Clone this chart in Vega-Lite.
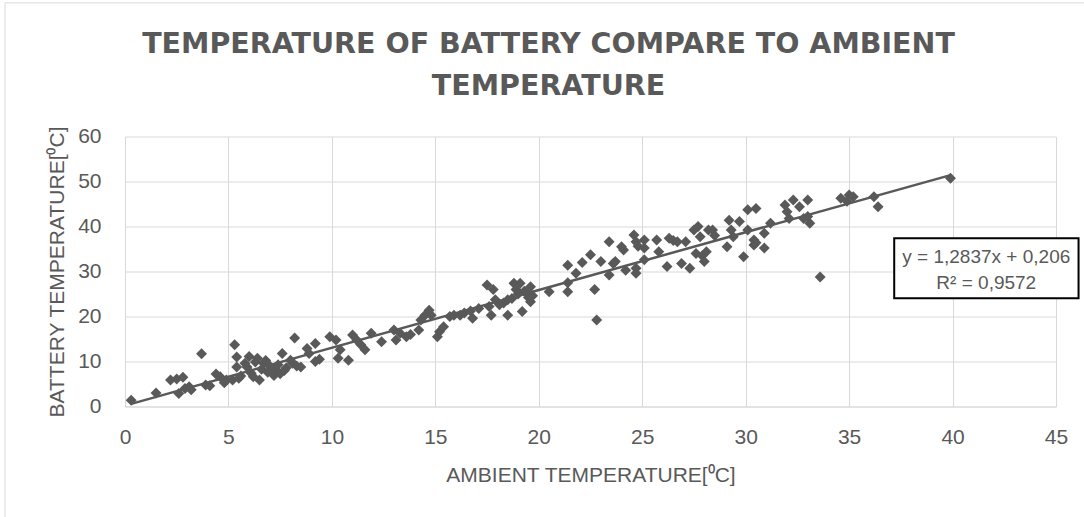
{
  "$schema": "https://vega.github.io/schema/vega-lite/v6.json",
  "width": 931,
  "height": 270,
  "autosize": {"type": "none"},
  "padding": {"left": 125, "top": 136.5, "right": 28, "bottom": 110.5},
  "background": "white",
  "config": {"view": {"stroke": null}, "font": "Liberation Sans"},
  "title": {
    "text": ["TEMPERATURE OF BATTERY COMPARE TO AMBIENT", "TEMPERATURE"],
    "font": "DejaVu Sans",
    "fontSize": 28.5,
    "fontWeight": "bold",
    "color": "#595959",
    "anchor": "middle",
    "frame": "group",
    "dx": -42,
    "offset": -98,
    "lineHeight": 42
  },
  "datasets": {
    "pts": [
      {"ambient": 0.3, "battery": 1.4}, {"ambient": 1.5, "battery": 3.0}, {"ambient": 2.2, "battery": 5.9},
      {"ambient": 2.5, "battery": 6.1}, {"ambient": 2.6, "battery": 2.9}, {"ambient": 2.8, "battery": 6.5},
      {"ambient": 2.9, "battery": 4.0}, {"ambient": 3.1, "battery": 4.4}, {"ambient": 3.2, "battery": 3.7},
      {"ambient": 3.7, "battery": 11.7}, {"ambient": 3.9, "battery": 4.8}, {"ambient": 4.1, "battery": 4.6},
      {"ambient": 4.4, "battery": 7.2}, {"ambient": 4.6, "battery": 6.6}, {"ambient": 4.8, "battery": 5.3},
      {"ambient": 4.9, "battery": 5.9}, {"ambient": 5.2, "battery": 5.9}, {"ambient": 5.3, "battery": 13.7},
      {"ambient": 5.4, "battery": 11.0}, {"ambient": 5.4, "battery": 8.8}, {"ambient": 5.5, "battery": 6.3},
      {"ambient": 5.6, "battery": 6.8}, {"ambient": 5.8, "battery": 9.6}, {"ambient": 5.9, "battery": 8.8},
      {"ambient": 6.0, "battery": 11.1}, {"ambient": 6.1, "battery": 7.4}, {"ambient": 6.2, "battery": 6.6},
      {"ambient": 6.3, "battery": 9.9}, {"ambient": 6.4, "battery": 10.7}, {"ambient": 6.5, "battery": 5.9},
      {"ambient": 6.6, "battery": 8.3}, {"ambient": 6.7, "battery": 9.6}, {"ambient": 6.8, "battery": 10.2},
      {"ambient": 6.9, "battery": 7.6}, {"ambient": 7.0, "battery": 9.0}, {"ambient": 7.1, "battery": 8.3},
      {"ambient": 7.2, "battery": 6.9}, {"ambient": 7.3, "battery": 8.1}, {"ambient": 7.4, "battery": 9.3},
      {"ambient": 7.5, "battery": 7.3}, {"ambient": 7.6, "battery": 11.8}, {"ambient": 7.7, "battery": 8.0},
      {"ambient": 7.8, "battery": 8.6}, {"ambient": 8.0, "battery": 10.3}, {"ambient": 8.1, "battery": 9.6},
      {"ambient": 8.2, "battery": 15.2}, {"ambient": 8.3, "battery": 9.0}, {"ambient": 8.5, "battery": 8.8},
      {"ambient": 8.8, "battery": 12.9}, {"ambient": 8.9, "battery": 11.8}, {"ambient": 9.2, "battery": 14.0},
      {"ambient": 9.2, "battery": 10.0}, {"ambient": 9.4, "battery": 10.5}, {"ambient": 9.9, "battery": 15.5},
      {"ambient": 10.2, "battery": 14.8}, {"ambient": 10.4, "battery": 12.6}, {"ambient": 10.3, "battery": 10.7},
      {"ambient": 10.8, "battery": 10.3}, {"ambient": 11.0, "battery": 15.9}, {"ambient": 11.2, "battery": 14.8},
      {"ambient": 11.4, "battery": 13.7}, {"ambient": 11.6, "battery": 12.6}, {"ambient": 11.9, "battery": 16.3},
      {"ambient": 12.4, "battery": 14.4}, {"ambient": 13.0, "battery": 17.0}, {"ambient": 13.1, "battery": 14.8},
      {"ambient": 13.3, "battery": 16.3}, {"ambient": 13.6, "battery": 15.5}, {"ambient": 13.8, "battery": 16.0},
      {"ambient": 14.2, "battery": 17.0}, {"ambient": 14.3, "battery": 19.2}, {"ambient": 14.5, "battery": 20.3},
      {"ambient": 14.7, "battery": 21.4}, {"ambient": 14.8, "battery": 20.3}, {"ambient": 15.1, "battery": 15.5},
      {"ambient": 15.2, "battery": 16.6}, {"ambient": 15.4, "battery": 17.7}, {"ambient": 15.7, "battery": 20.0},
      {"ambient": 15.9, "battery": 20.3}, {"ambient": 16.2, "battery": 20.3}, {"ambient": 16.4, "battery": 20.8},
      {"ambient": 16.7, "battery": 21.2}, {"ambient": 16.8, "battery": 19.6}, {"ambient": 17.1, "battery": 21.8},
      {"ambient": 17.5, "battery": 27.0}, {"ambient": 17.6, "battery": 22.2}, {"ambient": 17.7, "battery": 20.3},
      {"ambient": 17.8, "battery": 26.0}, {"ambient": 17.9, "battery": 23.7}, {"ambient": 18.1, "battery": 22.6},
      {"ambient": 18.3, "battery": 23.0}, {"ambient": 18.5, "battery": 20.3}, {"ambient": 18.5, "battery": 23.7},
      {"ambient": 18.7, "battery": 24.0}, {"ambient": 18.8, "battery": 27.4}, {"ambient": 18.9, "battery": 26.0},
      {"ambient": 19.0, "battery": 25.0}, {"ambient": 19.1, "battery": 27.4}, {"ambient": 19.2, "battery": 21.1},
      {"ambient": 19.3, "battery": 25.6}, {"ambient": 19.4, "battery": 25.2}, {"ambient": 19.5, "battery": 24.2},
      {"ambient": 19.6, "battery": 26.6}, {"ambient": 19.6, "battery": 23.3}, {"ambient": 19.7, "battery": 24.6},
      {"ambient": 20.5, "battery": 25.5}, {"ambient": 21.4, "battery": 31.4}, {"ambient": 21.4, "battery": 27.5},
      {"ambient": 21.4, "battery": 25.5}, {"ambient": 21.8, "battery": 29.6}, {"ambient": 22.1, "battery": 32.0},
      {"ambient": 22.5, "battery": 33.7}, {"ambient": 22.7, "battery": 26.0}, {"ambient": 22.8, "battery": 19.2},
      {"ambient": 23.0, "battery": 32.2}, {"ambient": 23.4, "battery": 36.6}, {"ambient": 23.4, "battery": 29.2},
      {"ambient": 23.6, "battery": 31.8}, {"ambient": 23.7, "battery": 32.2}, {"ambient": 24.0, "battery": 35.5},
      {"ambient": 24.1, "battery": 34.8}, {"ambient": 24.2, "battery": 30.3}, {"ambient": 24.6, "battery": 38.1},
      {"ambient": 24.7, "battery": 36.6}, {"ambient": 24.7, "battery": 29.6}, {"ambient": 24.7, "battery": 30.7},
      {"ambient": 24.8, "battery": 35.6}, {"ambient": 25.1, "battery": 37.0}, {"ambient": 25.1, "battery": 35.2},
      {"ambient": 25.1, "battery": 32.6}, {"ambient": 25.7, "battery": 37.0}, {"ambient": 25.8, "battery": 34.4},
      {"ambient": 26.2, "battery": 31.1}, {"ambient": 26.3, "battery": 37.4}, {"ambient": 26.5, "battery": 36.9},
      {"ambient": 26.7, "battery": 36.6}, {"ambient": 26.9, "battery": 31.8}, {"ambient": 27.1, "battery": 36.6},
      {"ambient": 27.3, "battery": 30.7}, {"ambient": 27.5, "battery": 39.2}, {"ambient": 27.6, "battery": 34.0},
      {"ambient": 27.7, "battery": 40.0}, {"ambient": 27.8, "battery": 37.7}, {"ambient": 27.9, "battery": 33.5},
      {"ambient": 28.0, "battery": 32.2}, {"ambient": 28.1, "battery": 34.4}, {"ambient": 28.2, "battery": 39.2},
      {"ambient": 28.4, "battery": 39.2}, {"ambient": 28.5, "battery": 38.0}, {"ambient": 29.1, "battery": 35.5},
      {"ambient": 29.2, "battery": 41.4}, {"ambient": 29.3, "battery": 39.2}, {"ambient": 29.4, "battery": 37.7},
      {"ambient": 29.7, "battery": 41.1}, {"ambient": 29.9, "battery": 33.3}, {"ambient": 30.1, "battery": 39.2},
      {"ambient": 30.1, "battery": 43.7}, {"ambient": 30.4, "battery": 37.0}, {"ambient": 30.4, "battery": 35.9},
      {"ambient": 30.5, "battery": 44.0}, {"ambient": 30.5, "battery": 36.4}, {"ambient": 30.9, "battery": 38.5},
      {"ambient": 30.9, "battery": 35.2}, {"ambient": 31.2, "battery": 40.7}, {"ambient": 31.9, "battery": 44.8},
      {"ambient": 32.0, "battery": 43.3}, {"ambient": 32.1, "battery": 41.8}, {"ambient": 32.3, "battery": 45.9},
      {"ambient": 32.6, "battery": 44.4}, {"ambient": 32.8, "battery": 41.8}, {"ambient": 33.0, "battery": 45.9},
      {"ambient": 33.0, "battery": 42.2}, {"ambient": 33.1, "battery": 40.7}, {"ambient": 33.6, "battery": 28.8},
      {"ambient": 34.6, "battery": 46.3}, {"ambient": 34.9, "battery": 45.6}, {"ambient": 35.0, "battery": 47.0},
      {"ambient": 35.2, "battery": 46.6}, {"ambient": 36.2, "battery": 46.6}, {"ambient": 36.4, "battery": 44.4},
      {"ambient": 39.9, "battery": 50.7}
    ],
    "trend": [
      {"ambient": 0.3, "battery": 0.591},
      {"ambient": 39.9, "battery": 51.426}
    ]
  },
  "layer": [
    {
      "data": {"values": [{}]},
      "mark": {"type": "rect", "fill": null, "stroke": "#d9d9d9", "strokeWidth": 1},
      "encoding": {
        "x": {"datum": -5.8, "type": "quantitative"},
        "x2": {"datum": 46.5},
        "y": {"datum": 89.7, "type": "quantitative"},
        "y2": {"datum": -25}
      }
    },
    {
      "data": {"name": "pts"},
      "mark": {"type": "point", "shape": "diamond", "filled": true, "size": 120, "color": "#595959", "opacity": 1},
      "encoding": {
        "x": {
          "field": "ambient", "type": "quantitative",
          "scale": {"domain": [0, 45], "nice": false, "zero": false},
          "axis": {
            "title": "AMBIENT TEMPERATURE[⁰C]",
            "values": [0, 5, 10, 15, 20, 25, 30, 35, 40, 45],
            "grid": true, "gridColor": "#d9d9d9", "gridWidth": 1,
            "domain": true, "domainColor": "#d9d9d9", "domainWidth": 1,
            "ticks": false, "labelFlush": false,
            "labelFont": "Liberation Sans", "labelFontSize": 21, "labelColor": "#595959", "labelPadding": 20,
            "titleFont": "Liberation Sans", "titleFontSize": 21, "titleFontWeight": "normal", "titleColor": "#595959", "titlePadding": 17
          }
        },
        "y": {
          "field": "battery", "type": "quantitative",
          "scale": {"domain": [0, 60], "nice": false, "zero": false},
          "axis": {
            "title": "BATTERY TEMPERATURE[⁰C]",
            "values": [0, 10, 20, 30, 40, 50, 60],
            "grid": true, "gridColor": "#d9d9d9", "gridWidth": 1,
            "domain": false, "ticks": false,
            "labelFont": "Liberation Sans", "labelFontSize": 21, "labelColor": "#595959", "labelPadding": 24,
            "titleFont": "Liberation Sans", "titleFontSize": 21, "titleFontWeight": "normal", "titleColor": "#595959", "titlePadding": 10
          }
        }
      }
    },
    {
      "data": {"name": "trend"},
      "mark": {"type": "line", "color": "#595959", "strokeWidth": 2.5},
      "encoding": {
        "x": {"field": "ambient", "type": "quantitative"},
        "y": {"field": "battery", "type": "quantitative"}
      }
    },
    {
      "data": {"values": [{}]},
      "mark": {"type": "rect", "fill": "white", "stroke": "black", "strokeWidth": 2},
      "encoding": {
        "x": {"datum": 37.18, "type": "quantitative"},
        "x2": {"datum": 46.09},
        "y": {"datum": 37.38, "type": "quantitative"},
        "y2": {"datum": 24.04}
      }
    },
    {
      "data": {"values": [{}]},
      "mark": {"type": "text", "text": "y = 1,2837x + 0,206", "font": "Liberation Sans", "fontSize": 19, "color": "#595959", "align": "center", "baseline": "middle"},
      "encoding": {
        "x": {"datum": 41.63, "type": "quantitative"},
        "y": {"datum": 33.3, "type": "quantitative"}
      }
    },
    {
      "data": {"values": [{}]},
      "mark": {"type": "text", "text": "R² = 0,9572", "font": "Liberation Sans", "fontSize": 19, "color": "#595959", "align": "center", "baseline": "middle"},
      "encoding": {
        "x": {"datum": 41.63, "type": "quantitative"},
        "y": {"datum": 27.4, "type": "quantitative"}
      }
    }
  ]
}
